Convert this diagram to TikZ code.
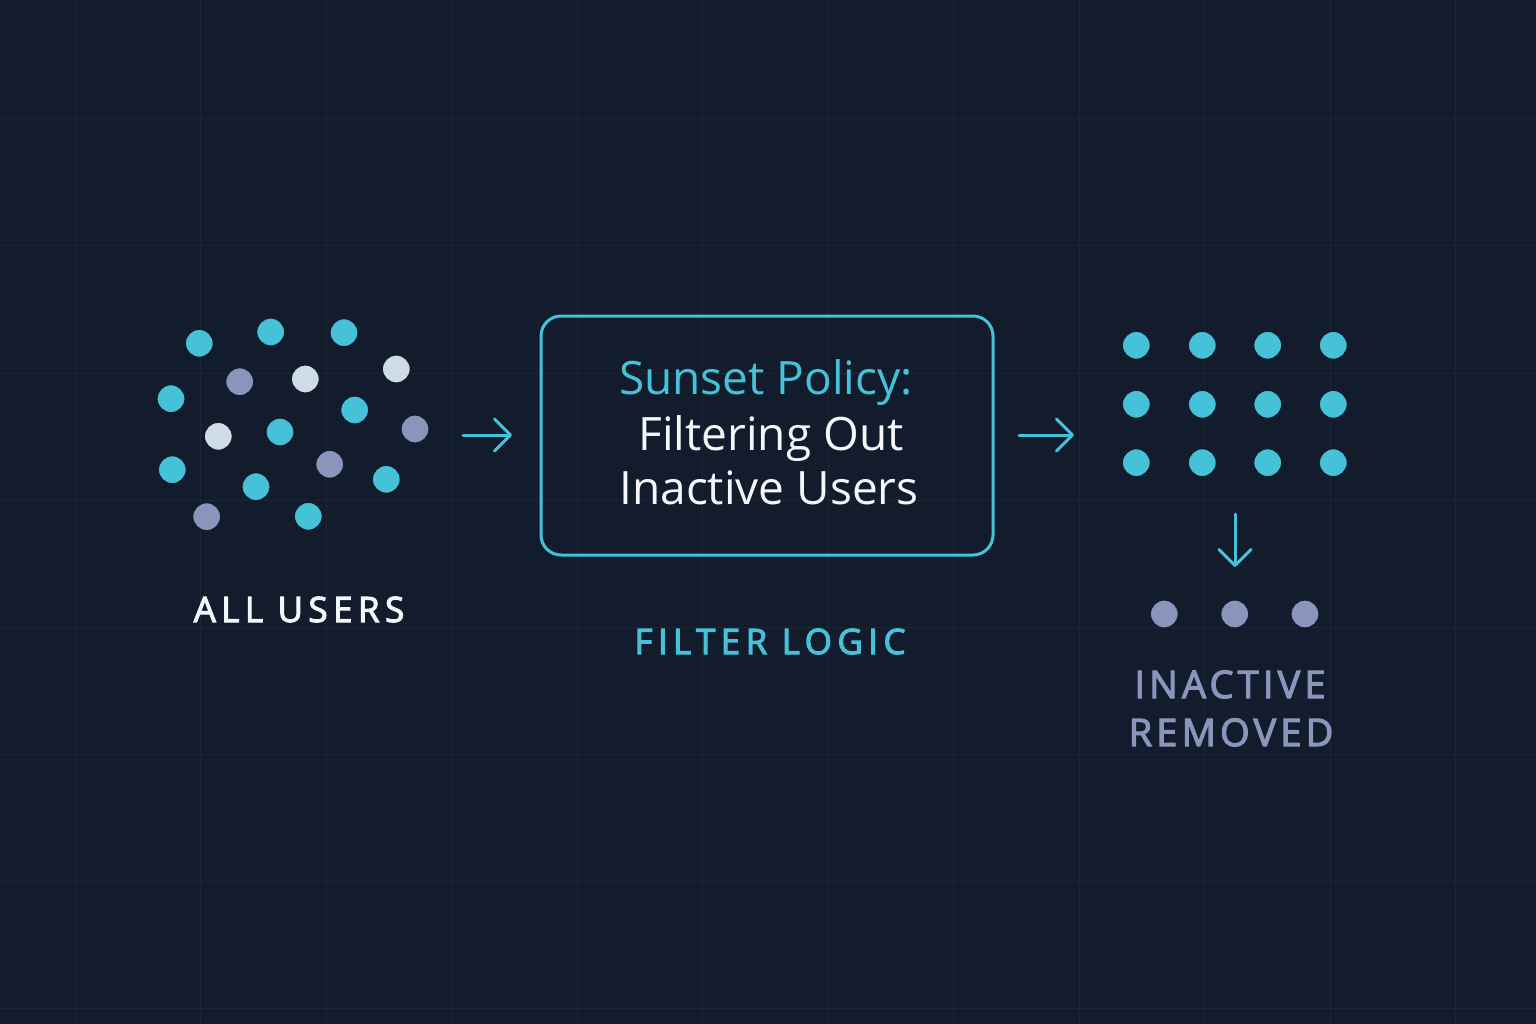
\documentclass[tikz,border=0pt]{standalone}
\usepackage{fontspec}
\setmainfont{Open Sans}
\usetikzlibrary{arrows.meta}
\definecolor{bg}{HTML}{121C2D}
\definecolor{gridc}{HTML}{1A2536}
\definecolor{teal}{HTML}{45C1D8}
\definecolor{lav}{HTML}{8B95BC}
\definecolor{pale}{HTML}{CFDCE5}
\definecolor{txt}{HTML}{F4F6F9}
\tikzset{
  dotT/.style={circle, fill=teal, draw=bg, line width=1.2pt, minimum size=28pt, inner sep=0pt},
  dotL/.style={dotT, fill=lav},
  dotW/.style={dotT, fill=pale},
  arr/.style={draw=teal, line width=3pt, line cap=round, -{Straight Barb[length=16pt, width=32pt, line cap=round, line join=round]}},
  caplabel/.style={font=\fontsize{35}{42}\selectfont\addfontfeatures{LetterSpace=15.5,FakeBold=3}, anchor=base},
  biglabel/.style={font=\fontsize{38}{44}\selectfont\addfontfeatures{LetterSpace=11,FakeBold=3}, anchor=base},
  boxtext/.style={font=\fontsize{46}{52}\selectfont, anchor=base},
}
\begin{document}
\begin{tikzpicture}[x=1pt, y=-1pt]
\fill[bg] (0,0) rectangle (1536,1024);
\useasboundingbox (0,0) rectangle (1536,1024);
\foreach \gx in {75,200.5,326,451.5,577,702.5,828,953.5,1079,1204.5,1330,1455.5}
  \draw[gridc, line width=1pt] (\gx,0) -- (\gx,1024);
\foreach \gy in {119,246,373,500,627,754,881,1008}
  \draw[gridc, line width=1pt] (0,\gy) -- (1536,\gy);

% all users cluster
\node[dotT] (u1) at (199.3,343.3) {};
\node[dotT] (u2) at (270.7,332) {};
\node[dotT] (u3) at (344,332.7) {};
\node[dotW] (u4) at (396.3,369) {};
\node[dotL] (u5) at (239.7,381.7) {};
\node[dotW] (u6) at (305.3,379) {};
\node[dotT] (u7) at (171,398.7) {};
\node[dotT] (u8) at (354.7,410) {};
\node[dotL] (u9) at (415,429) {};
\node[dotW] (u10) at (218.3,436.3) {};
\node[dotT] (u11) at (280,432) {};
\node[dotT] (u12) at (172.3,469.7) {};
\node[dotL] (u13) at (329.7,464.3) {};
\node[dotT] (u14) at (386.3,479.3) {};
\node[dotT] (u15) at (256,486.7) {};
\node[dotL] (u16) at (206.7,516.7) {};
\node[dotT] (u17) at (308.3,516.3) {};

\node[caplabel, text=txt] (allusers) at (299,622) {ALL USERS};

% filter box
\node[draw=teal, line width=3pt, rounded corners=20pt, minimum width=452pt, minimum height=239pt, inner sep=0pt] (box) at (767,435.5) {};
\node[boxtext, text=teal] (t1) at (766,394) {Sunset Policy:};
\node[boxtext, text=txt] (t2) at (771,450) {Filtering Out};
\node[boxtext, text=txt] (t3) at (769,504) {Inactive Users};
\node[caplabel, text=teal] (filterlogic) at (770,654) {FILTER LOGIC};

% arrows
\coordinate (a1s) at (463,435);
\coordinate (a1e) at (512,435);
\draw[arr] (a1s) -- (a1e);
\coordinate (a2s) at (1019,435);
\coordinate (a2e) at (1074,435);
\draw[arr] (a2s) -- (a2e);

% kept users grid
\foreach \c [count=\i] in {1136.3,1202.3,1267.7,1333.3}{
  \node[dotT] (k1\i) at (\c,345.3) {};
  \node[dotT] (k2\i) at (\c,404.3) {};
  \node[dotT] (k3\i) at (\c,462.7) {};
}
\coordinate (a3s) at (1235,514);
\coordinate (a3e) at (1235,567);
\draw[arr] (a3s) -- (a3e);

\node[dotL] (r1) at (1164.3,614) {};
\node[dotL] (r2) at (1234.7,614) {};
\node[dotL] (r3) at (1305,614) {};

\node[biglabel, text=lav] (inactive) at (1230,698) {INACTIVE};
\node[biglabel, text=lav] (removed) at (1231,746) {REMOVED};
\end{tikzpicture}
\end{document}
